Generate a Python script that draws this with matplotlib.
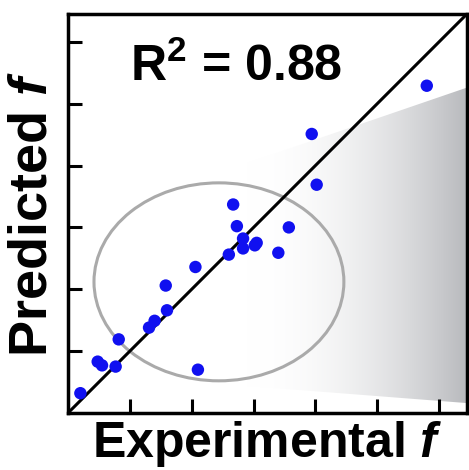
import numpy as np
import matplotlib
matplotlib.use("Agg")
import matplotlib.pyplot as plt
from matplotlib.patches import Ellipse, Polygon

plt.rcParams["font.family"] = ["Liberation Sans", "DejaVu Sans"]
plt.rcParams["mathtext.fontset"] = "custom"
plt.rcParams["mathtext.rm"] = "Liberation Sans:bold"
plt.rcParams["mathtext.it"] = "Liberation Sans:italic:bold"
plt.rcParams["mathtext.bf"] = "Liberation Sans:bold"

# experimental vs predicted f (tick units)
exp_f = [0.20, 0.48, 0.55, 0.77, 0.82, 1.31, 1.40, 1.60, 1.58, 2.06, 2.10, 2.60,
         2.67, 2.73, 2.83, 2.83, 3.02, 3.05, 3.40, 3.57, 3.94, 4.02, 5.80]
pred_f = [0.32, 0.83, 0.77, 0.75, 1.19, 1.38, 1.49, 1.66, 2.06, 2.36, 0.70, 2.56,
          3.37, 3.02, 2.82, 2.66, 2.71, 2.75, 2.59, 3.00, 4.51, 3.69, 5.29]
r2_text = r"R$^{2}$ = 0.88"
lim = 6.45
ticks = [1, 2, 3, 4, 5, 6]

fig = plt.figure(figsize=(4.69, 4.70), dpi=100)
ax = fig.add_axes([0.145, 0.1213, 0.8507, 0.849])
ax.set_xlim(0, lim)
ax.set_ylim(0, lim)

# grey fan shading on the right, fading out to the left
fan = Polygon([(2.6, 3.94), (lim, 5.26), (lim, 0.16), (2.6, 0.46)], closed=True,
              facecolor="none", edgecolor="none", transform=ax.transData)
ax.add_patch(fan)
xs = np.linspace(2.6, lim, 400)
t = np.clip((xs - 2.9) / (lim - 2.9), 0, 1)
shade = t ** 2
rgb = np.ones((2, 400, 3))
for c, v in enumerate([0.72, 0.725, 0.74]):
    rgb[:, :, c] = 1 - shade * (1 - v)
im = ax.imshow(rgb, extent=[2.6, lim, 0, lim], aspect="auto", zorder=1)
im.set_clip_path(fan)

ax.add_patch(Ellipse((2.44, 2.12), 4.04, 3.2, facecolor="none",
                     edgecolor="#aaaaaa", lw=2.2, zorder=2))
ax.plot([0, lim], [0, lim], color="black", lw=2.2, zorder=3)
ax.scatter(exp_f, pred_f, s=80, color="#1010f0", edgecolors="none", zorder=4)

ax.text(1.0, 5.6, r2_text, fontsize=36, fontweight="bold", va="center")

ax.set_xticks(ticks)
ax.set_yticks(ticks)
ax.set_xticklabels([])
ax.set_yticklabels([])
ax.tick_params(direction="in", length=10, width=2.2)
for s in ax.spines.values():
    s.set_linewidth(2.5)

ax.set_xlabel(r"Experimental $f$", fontsize=36, fontweight="bold", labelpad=1)
ax.set_ylabel(r"Predicted $f$", fontsize=39, fontweight="bold", labelpad=4)

fig.savefig("out.png", dpi=100)
